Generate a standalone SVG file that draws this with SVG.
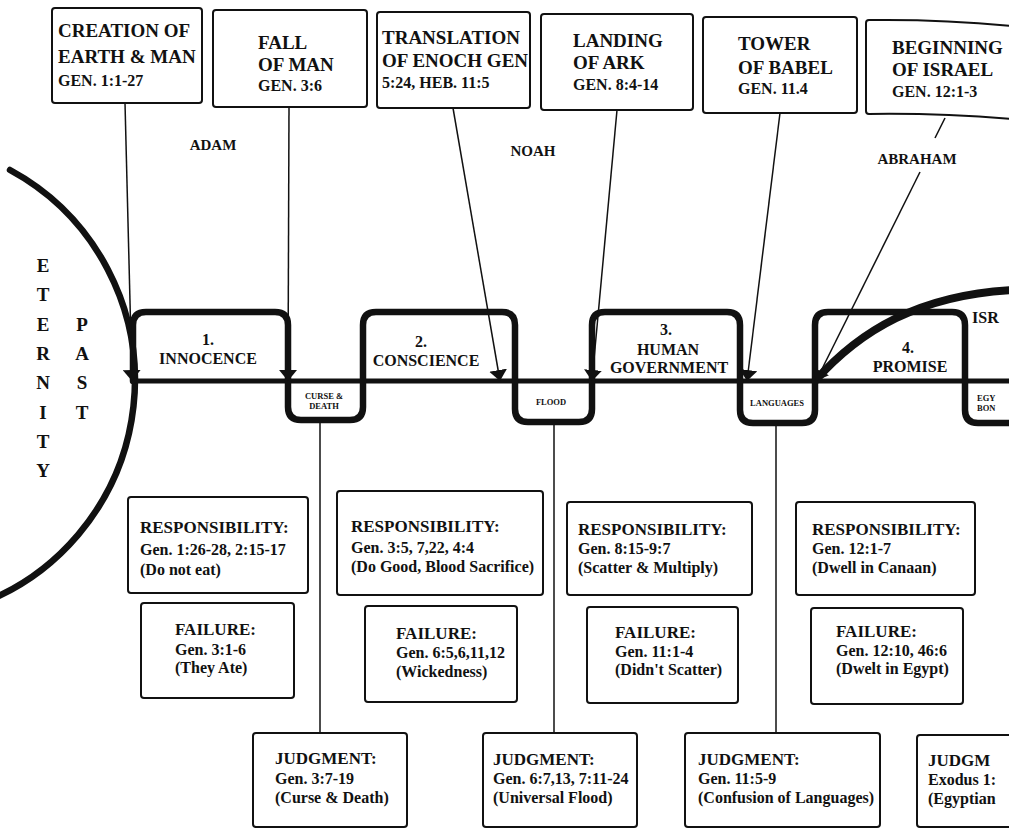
<svg xmlns="http://www.w3.org/2000/svg" width="1009" height="829" viewBox="0 0 1009 829">
<defs>
<style>
.bx{fill:#fff;stroke:#111;stroke-width:2}
.t{font-family:"Liberation Serif","Times New Roman",serif;font-weight:bold;fill:#111}
.h{font-size:19px}
.g{font-size:16px}
.lb{font-size:15px}
.st{font-size:16px}
.rh{font-size:17px}
.rl{font-size:16px}
.sm{font-size:8.5px}
.thin{fill:none;stroke:#111;stroke-width:1.5}
.thick{fill:none;stroke:#111;stroke-width:6.5;stroke-linejoin:round;stroke-linecap:round}
.mid{text-anchor:middle}
</style>
<marker id="ah" viewBox="0 0 11 18" refX="11" refY="9" markerWidth="11" markerHeight="18" markerUnits="userSpaceOnUse" orient="auto">
<path d="M0,0 L11,9 L0,18 Z" fill="#111"/>
</marker>
</defs>
<rect width="1009" height="829" fill="#fff"/>

<!-- eternity past -->
<g id="eternity">
<path d="M10,170 A239,239 0 0 1 -39,610" class="thick"/>
<g class="t h mid">
<text x="43" y="272">E</text>
<text x="43" y="301">T</text>
<text x="43" y="331">E</text>
<text x="43" y="360">R</text>
<text x="43" y="389">N</text>
<text x="43" y="419">I</text>
<text x="43" y="448">T</text>
<text x="43" y="477">Y</text>
<text x="82" y="331">P</text>
<text x="82" y="360">A</text>
<text x="82" y="389">S</text>
<text x="82" y="419">T</text>
</g>
</g>

<!-- timeline -->
<g id="timeline">
<line x1="133" y1="381" x2="1009" y2="381" stroke="#111" stroke-width="5"/>
<path class="thick" d="M133,381 L133,325 Q133,312 146,312 L275,312 Q288,312 288,325 L288,407 Q288,420 301,420 L350,420 Q363,420 363,407 L363,325 Q363,312 376,312 L502,312 Q515,312 515,325 L515,409 Q515,422 528,422 L579,422 Q592,422 592,409 L592,325 Q592,312 605,312 L727,312 Q740,312 740,325 L740,410 Q740,423 753,423 L802,423 Q815,423 815,410 L815,325 Q815,312 828,312 L952,312 Q965,312 965,325 L965,410 Q965,423 978,423 L1012,423"/>
<path d="M815,381 C860,330 920,295 1012,290" fill="none" stroke="#111" stroke-width="8"/>
<text class="t" x="972" y="323" font-size="16">ISR</text>
</g>

<g id="innocence"><text class="t st mid" x="208" y="345">1.</text><text class="t st mid" x="208" y="364">INNOCENCE</text></g>
<g id="conscience"><text class="t st mid" x="421" y="347">2.</text><text class="t st mid" x="426" y="366">CONSCIENCE</text></g>
<g id="government"><text class="t st mid" x="666" y="335">3.</text><text class="t st mid" x="668" y="355">HUMAN</text><text class="t st mid" x="669" y="373">GOVERNMENT</text></g>
<g id="promise"><text class="t st mid" x="908" y="353">4.</text><text class="t st mid" x="910" y="372">PROMISE</text></g>

<g id="curse"><text class="t sm mid" x="324" y="399">CURSE &amp;</text><text class="t sm mid" x="324" y="409">DEATH</text></g>
<g id="flood"><text class="t sm mid" x="551" y="405">FLOOD</text></g>
<g id="languages"><text class="t sm mid" x="777" y="406" font-size="9.5">LANGUAGES</text></g>
<g id="egypt"><text class="t sm" x="977" y="401">EGY</text><text class="t sm" x="977" y="411">BON</text></g>

<!-- names -->
<g id="adam"><text class="t lb mid" x="213" y="150">ADAM</text></g>
<g id="noah"><text class="t lb mid" x="533" y="156">NOAH</text></g>
<g id="abraham"><text class="t lb mid" x="917" y="164">ABRAHAM</text></g>

<!-- connectors -->
<g id="connectors">
<line class="thin" x1="125" y1="103" x2="132" y2="381" marker-end="url(#ah)"/>
<line class="thin" x1="289" y1="107" x2="288" y2="381" marker-end="url(#ah)"/>
<line class="thin" x1="453" y1="108" x2="500" y2="381" marker-end="url(#ah)"/>
<line class="thin" x1="617" y1="110" x2="592" y2="381" marker-end="url(#ah)"/>
<line class="thin" x1="780" y1="113" x2="747" y2="381" marker-end="url(#ah)"/>
<line class="thin" x1="945" y1="118" x2="935" y2="138"/>
<line class="thin" x1="920" y1="172" x2="816" y2="381" marker-end="url(#ah)"/>
<line class="thin" x1="320" y1="423" x2="320" y2="733"/>
<line class="thin" x1="554" y1="425" x2="554" y2="733"/>
<line class="thin" x1="776" y1="426" x2="776" y2="733"/>
</g>

<!-- top event boxes -->
<g id="creation">
<rect class="bx" x="52" y="8" width="150" height="95" rx="3"/>
<text class="t h" x="58" y="37">CREATION OF</text>
<text class="t h" x="58" y="63">EARTH &amp; MAN</text>
<text class="t g" x="58" y="86">GEN. 1:1-27</text>
</g>
<g id="fall">
<rect class="bx" x="213" y="10" width="154" height="97" rx="3"/>
<text class="t h" x="258" y="49">FALL</text>
<text class="t h" x="258" y="71">OF MAN</text>
<text class="t g" x="258" y="91">GEN. 3:6</text>
</g>
<g id="enoch">
<rect class="bx" x="377" y="12" width="153" height="96" rx="3"/>
<text class="t h" x="382" y="44">TRANSLATION</text>
<text class="t h" x="382" y="67">OF ENOCH GEN</text>
<text class="t g" x="382" y="88">5:24, HEB. 11:5</text>
</g>
<g id="ark">
<rect class="bx" x="541" y="14" width="152" height="96" rx="3"/>
<text class="t h" x="573" y="47">LANDING</text>
<text class="t h" x="573" y="69">OF ARK</text>
<text class="t g" x="573" y="90">GEN. 8:4-14</text>
</g>
<g id="babel">
<rect class="bx" x="703" y="17" width="154" height="96" rx="3"/>
<text class="t h" x="738" y="50">TOWER</text>
<text class="t h" x="738" y="74">OF BABEL</text>
<text class="t g" x="738" y="94">GEN. 11.4</text>
</g>
<g id="israel">
<path class="bx" d="M1012,26 Q940,19 869,20 Q866,20 866,23 L866,111 Q866,114 869,114 Q940,113 1012,119"/>
<text class="t h" x="892" y="54">BEGINNING</text>
<text class="t h" x="892" y="76">OF ISRAEL</text>
<text class="t g" x="892" y="97">GEN. 12:1-3</text>
</g>

<!-- responsibility -->
<g id="resp1">
<rect class="bx" x="128" y="497" width="180" height="96" rx="3"/>
<text class="t rh" x="140" y="533">RESPONSIBILITY:</text>
<text class="t rl" x="140" y="555">Gen. 1:26-28, 2:15-17</text>
<text class="t rl" x="140" y="575">(Do not eat)</text>
</g>
<g id="resp2">
<rect class="bx" x="337" y="491" width="206" height="104" rx="3"/>
<text class="t rh" x="351" y="532">RESPONSIBILITY:</text>
<text class="t rl" x="351" y="553">Gen. 3:5, 7,22, 4:4</text>
<text class="t rl" x="351" y="572">(Do Good, Blood Sacrifice)</text>
</g>
<g id="resp3">
<rect class="bx" x="567" y="502" width="185" height="93" rx="3"/>
<text class="t rh" x="578" y="535">RESPONSIBILITY:</text>
<text class="t rl" x="578" y="554">Gen. 8:15-9:7</text>
<text class="t rl" x="578" y="573">(Scatter &amp; Multiply)</text>
</g>
<g id="resp4">
<rect class="bx" x="796" y="502" width="179" height="93" rx="3"/>
<text class="t rh" x="812" y="535">RESPONSIBILITY:</text>
<text class="t rl" x="812" y="554">Gen. 12:1-7</text>
<text class="t rl" x="812" y="573">(Dwell in Canaan)</text>
</g>

<!-- failure -->
<g id="fail1">
<rect class="bx" x="141" y="603" width="153" height="95" rx="3"/>
<text class="t rh" x="175" y="635">FAILURE:</text>
<text class="t rl" x="175" y="655">Gen. 3:1-6</text>
<text class="t rl" x="175" y="673">(They Ate)</text>
</g>
<g id="fail2">
<rect class="bx" x="365" y="606" width="152" height="96" rx="3"/>
<text class="t rh" x="396" y="639">FAILURE:</text>
<text class="t rl" x="396" y="658">Gen. 6:5,6,11,12</text>
<text class="t rl" x="396" y="677">(Wickedness)</text>
</g>
<g id="fail3">
<rect class="bx" x="587" y="607" width="151" height="96" rx="3"/>
<text class="t rh" x="615" y="638">FAILURE:</text>
<text class="t rl" x="615" y="657">Gen. 11:1-4</text>
<text class="t rl" x="615" y="675">(Didn't Scatter)</text>
</g>
<g id="fail4">
<rect class="bx" x="811" y="608" width="152" height="96" rx="3"/>
<text class="t rh" x="836" y="637">FAILURE:</text>
<text class="t rl" x="836" y="656">Gen. 12:10, 46:6</text>
<text class="t rl" x="836" y="674">(Dwelt in Egypt)</text>
</g>

<!-- judgment -->
<g id="judg1">
<rect class="bx" x="253" y="733" width="154" height="94" rx="3"/>
<text class="t rh" x="275" y="764">JUDGMENT:</text>
<text class="t rl" x="275" y="784">Gen. 3:7-19</text>
<text class="t rl" x="275" y="803">(Curse &amp; Death)</text>
</g>
<g id="judg2">
<rect class="bx" x="483" y="733" width="154" height="94" rx="3"/>
<text class="t rh" x="493" y="765">JUDGMENT:</text>
<text class="t rl" x="493" y="784">Gen. 6:7,13, 7:11-24</text>
<text class="t rl" x="493" y="803">(Universal Flood)</text>
</g>
<g id="judg3">
<rect class="bx" x="685" y="733" width="195" height="94" rx="3"/>
<text class="t rh" x="698" y="765">JUDGMENT:</text>
<text class="t rl" x="698" y="784">Gen. 11:5-9</text>
<text class="t rl" x="698" y="803">(Confusion of Languages)</text>
</g>
<g id="judg4">
<path class="bx" d="M1012,735 L920,735 Q917,735 917,738 L917,824 Q917,827 920,827 L1012,827"/>
<text class="t rh" x="928" y="766">JUDGM</text>
<text class="t rl" x="928" y="785">Exodus 1:</text>
<text class="t rl" x="928" y="804">(Egyptian</text>
</g>
</svg>
